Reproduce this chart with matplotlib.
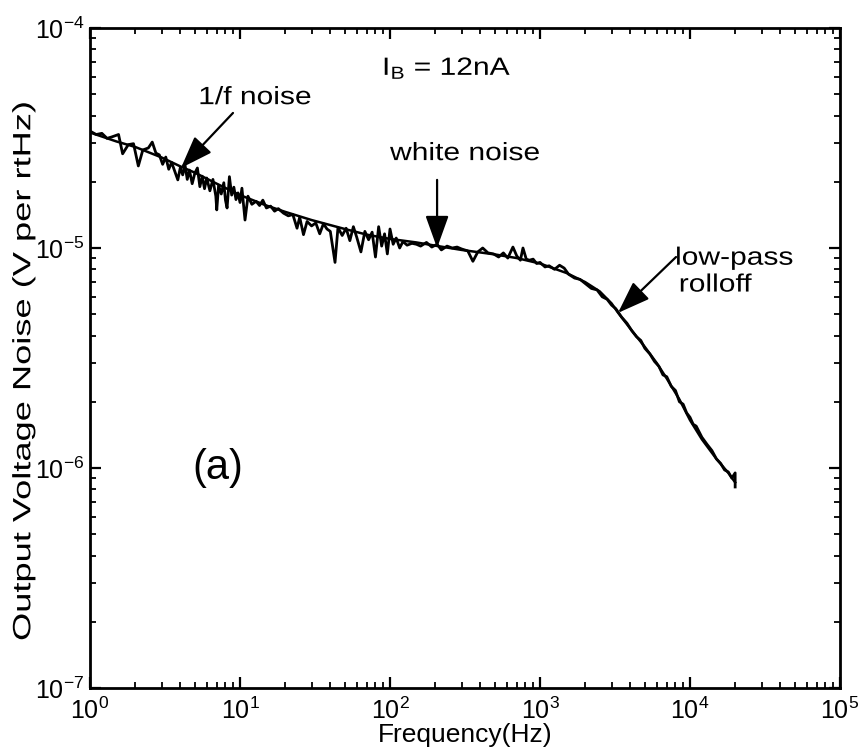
import matplotlib
matplotlib.use("Agg")
import matplotlib.pyplot as plt
from matplotlib.patheffects import AbstractPathEffect
from matplotlib.transforms import Affine2D
import numpy as np

plt.rcParams["font.family"] = ["Liberation Sans", "DejaVu Sans"]
plt.rcParams["mathtext.fontset"] = "custom"
plt.rcParams["mathtext.rm"] = "Liberation Sans"
plt.rcParams["mathtext.it"] = "Liberation Sans"
plt.rcParams["axes.unicode_minus"] = False

meas_freq = [1.0, 1.1, 1.2, 1.3, 1.4, 1.55, 1.65, 1.8, 1.95, 2.1, 2.25, 2.45, 2.6, 2.75,
             2.9, 3.05, 3.2, 3.35, 3.5, 3.7, 3.85, 4.0, 4.15, 4.3, 4.45, 4.6, 4.8, 5.0,
             5.2, 5.4, 5.6, 5.8, 6.0, 6.3, 6.6, 6.9, 7.0, 7.2, 7.5, 7.8, 8.0, 8.2, 8.5,
             8.8, 9.1, 9.4, 9.7, 10.0, 10.3, 10.8, 11.3, 12.0, 12.8, 13.5, 14.2, 15.0,
             16.0, 17.0, 18.0, 19.5, 21.0, 22.5, 24.0, 25.0, 26.5, 28.0, 30.0, 32.0,
             34.0, 36.0, 38.0, 40.0, 43.0, 45.0, 48.0, 51.0, 54.0, 57.0, 60.0, 64.0,
             68.0, 72.0, 76.0, 80.0, 84.0, 88.0, 92.0, 96.0, 100.0, 105.0, 110.0, 116.0,
             122.0, 130.0, 140.0, 150.0, 160.0, 175.0, 190.0, 206.0, 220.0, 240.0,
             260.0, 280.0, 300.0, 330.0, 357.0, 385.0, 415.0, 450.0, 490.0, 530.0,
             570.0, 610.0, 660.0, 700.0, 740.0, 770.0, 810.0, 850.0, 900.0, 950.0,
             1000.0, 1080.0, 1150.0, 1250.0, 1350.0, 1450.0, 1550.0, 1700.0, 1850.0,
             2000.0, 2200.0, 2400.0, 2600.0, 2800.0, 3000.0, 3200.0, 3500.0, 3800.0,
             4100.0, 4400.0, 4700.0, 5000.0, 5400.0, 5800.0, 6200.0, 6600.0, 7000.0,
             7500.0, 8000.0, 8500.0, 9000.0, 9500.0, 10000.0, 10500.0, 11000.0,
             12000.0, 13000.0, 14000.0, 15000.0, 16000.0, 17000.0, 18000.0, 19000.0,
             20000.0, 20000.0]
meas_uv = [34.0, 32.8, 33.2, 31.5, 32.0, 32.8, 26.8, 29.5, 29.8, 23.6, 27.9, 28.5, 30.3, 27.0,
           26.5, 24.0, 25.9, 22.8, 24.5, 22.0, 20.4, 23.2, 21.5, 23.8, 20.5, 22.6, 19.6, 21.9,
           23.1, 19.0, 21.2, 18.6, 20.8, 18.2, 20.5, 17.2, 14.9, 19.3, 17.6, 19.8, 16.5, 15.2, 21.1,
           17.4, 18.9, 16.6, 17.8, 16.1, 18.7, 13.4, 17.2, 15.8, 16.3, 15.6, 16.5, 15.2,
           15.5, 14.7, 15.1, 14.4, 14.0, 14.2, 12.3, 13.8, 11.5, 13.2, 12.6, 13.0,
           11.6, 12.9, 12.2, 11.9, 8.6, 12.4, 11.4, 12.3, 10.8, 12.5, 11.2, 9.6,
           11.9, 10.9, 11.8, 9.1, 12.5, 10.2, 11.6, 9.4, 12.2, 10.4, 11.1, 10.0,
           10.7, 10.3, 10.5, 10.4, 10.2, 10.6, 10.1, 10.4, 9.8, 10.2,
           10.0, 10.1, 9.9, 9.7, 8.7, 9.6, 10.0, 9.5, 9.4, 9.1,
           9.5, 9.0, 10.1, 9.2, 8.8, 10.0, 8.9, 8.8, 8.9, 8.5,
           8.6, 8.2, 8.3, 8.0, 8.35, 8.1, 7.6, 7.3, 7.2,
           6.9, 6.55, 6.45, 6.0, 5.85, 5.5, 5.3, 4.85, 4.55,
           4.2, 3.95, 3.8, 3.5, 3.3, 3.05, 2.9, 2.65, 2.6,
           2.35, 2.25, 2.0, 1.95, 1.78, 1.7, 1.58, 1.55,
           1.38, 1.28, 1.2, 1.1, 1.05, 0.98, 0.96, 0.9,
           0.95, 0.82]

# smooth model curve (Hz, uV per rtHz)
fit_freq = [1, 1.5, 2, 3, 4, 5, 7, 10, 15, 20, 30, 50, 70, 100, 150, 200, 300, 500, 700,
            1000, 1500, 2000, 2500, 3000, 3300, 4000, 5000, 6000, 7000, 8500, 10000,
            12000, 15000, 18000, 20000]
fit_uv = [33.5, 30.5, 28.8, 25.8, 23.5, 22.0, 19.6, 17.4, 15.6, 14.6, 13.4, 12.2, 11.5,
          11.0, 10.6, 10.25, 9.8, 9.35, 9.0, 8.5, 7.7, 7.0, 6.35, 5.6, 5.1, 4.3, 3.55,
          3.0, 2.55, 2.05, 1.65, 1.35, 1.1, 0.95, 0.86]


class Stretch(AbstractPathEffect):
    """widen text along its baseline, the old figure font is wide"""

    def __init__(self, sx):
        super().__init__()
        self.sx = sx

    def draw_path(self, renderer, gc, tpath, affine, rgbFace=None):
        ext = tpath.get_extents()
        cx = (ext.x0 + ext.x1) / 2
        pre = Affine2D().translate(-cx, 0).scale(self.sx, 1).translate(cx, 0)
        renderer.draw_path(gc, tpath, pre + affine, rgbFace)


fig = plt.figure(figsize=(8.63, 7.55), dpi=100)
ax = fig.add_axes([90 / 863, 1 - 688 / 755, 750 / 863, 660 / 755])

ax.loglog(meas_freq, np.array(meas_uv) * 1e-6, color="black", lw=2.0)
ax.loglog(fit_freq, np.array(fit_uv) * 1e-6, color="black", lw=1.8)

ax.set_xlim(1, 1e5)
ax.set_ylim(1e-7, 1e-4)

for s in ax.spines.values():
    s.set_linewidth(2.0)
ax.tick_params(which="both", direction="in", top=True, right=True, labelsize=18)
ax.tick_params(which="major", length=8, width=1.6, pad=4)
ax.tick_params(which="minor", length=4.5, width=1.3)
ax.tick_params(axis="x", which="major", pad=7)

ax.set_xlabel("Frequency(Hz)", fontsize=19, labelpad=-1)
ylab = ax.set_ylabel("Output Voltage Noise (V per rtHz)", fontsize=18)
ylab.set_path_effects([Stretch(1.45)])
ax.yaxis.set_label_coords(-0.073, 0.48)

wide = [Stretch(1.2)]
arrow = dict(arrowstyle="-|>,head_length=1.0,head_width=0.36", mutation_scale=20,
             color="black", lw=1.6, shrinkA=0, shrinkB=0)

ax.annotate("", xy=(4.04, 2.31e-5), xytext=(8.98, 4.11e-5), arrowprops=arrow)
t = ax.text(12.6, 4.85e-5, "1/f noise", fontsize=18, ha="center", va="center")
t.set_path_effects(wide)

ax.annotate("", xy=(206, 1.0e-5), xytext=(206, 2.04e-5), arrowprops=arrow)
t = ax.text(316, 2.7e-5, "white noise", fontsize=18, ha="center", va="center")
t.set_path_effects(wide)

ax.annotate("", xy=(3311, 5.07e-6), xytext=(8070, 9.1e-6), arrowprops=arrow)
t = ax.text(9260, 7.85e-6, "low-pass\nrolloff", fontsize=18, ha="left", va="center",
            linespacing=1.15)
t.set_path_effects(wide)

t = ax.text(240, 6.58e-5, r"$\mathregular{I_B}$ = 12nA", fontsize=18, ha="center",
            va="center")
t.set_path_effects(wide)

ax.text(7.13, 1.0e-6, "(a)", fontsize=30, ha="center", va="center")

fig.savefig("out.png", dpi=100)
